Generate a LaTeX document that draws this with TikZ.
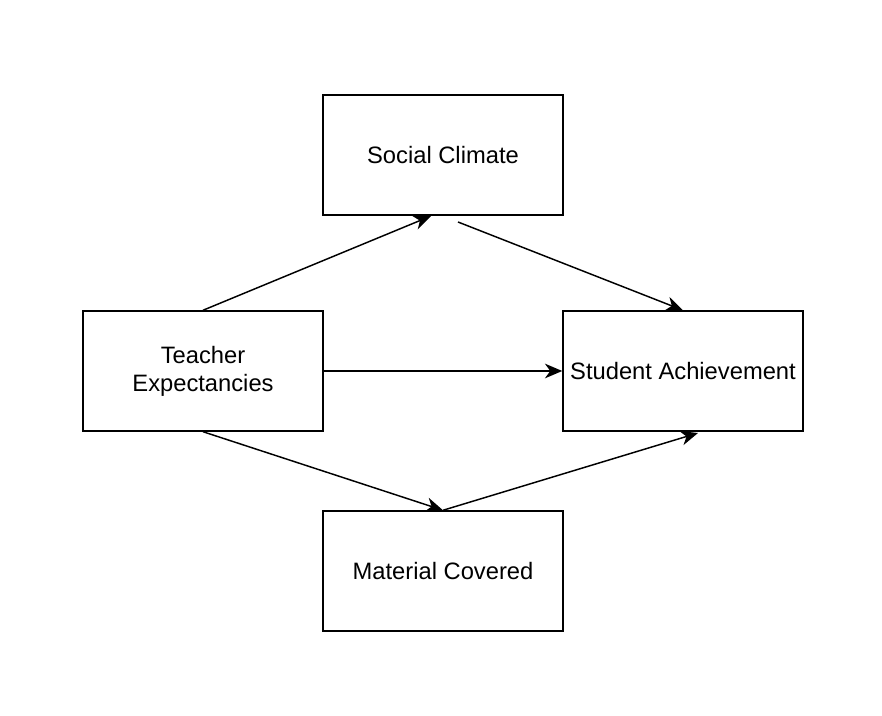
\documentclass[tikz,border=0pt]{standalone}
\usepackage{fontspec}
\setmainfont{Liberation Sans}
\usetikzlibrary{arrows.meta}
\begin{document}
\begin{tikzpicture}[x=0.75pt,y=-0.75pt,
  box/.style={draw,line width=1.1pt,minimum width=180pt,minimum height=90pt,inner sep=0pt,align=center,font=\fontsize{17.8pt}{21pt}\selectfont},
  conn/.style={line width=1.1pt,-{Stealth[length=13pt,width=11pt,inset=4pt]}}]
\useasboundingbox (0,0) rectangle (882,716);
\node[box] (sc) at (443,155) {Social Climate};
\node[box] (te) at (203,371) {Teacher\\Expectancies};
\node[box] (sa) at (683,371) {Student Achievement};
\node[box] (mc) at (443,571) {Material Covered};
\coordinate (scin) at (431,216);
\coordinate (scout) at (458,222);
\coordinate (sain) at (698,433);
\draw[conn] (te.north) -- (scin);
\draw[conn] (scout) -- (sa.north);
\draw[conn] (te.east) -- (sa.west);
\draw[conn] (te.south) -- (mc.north);
\draw[conn] (mc.north) -- (sain);
\end{tikzpicture}
\end{document}
